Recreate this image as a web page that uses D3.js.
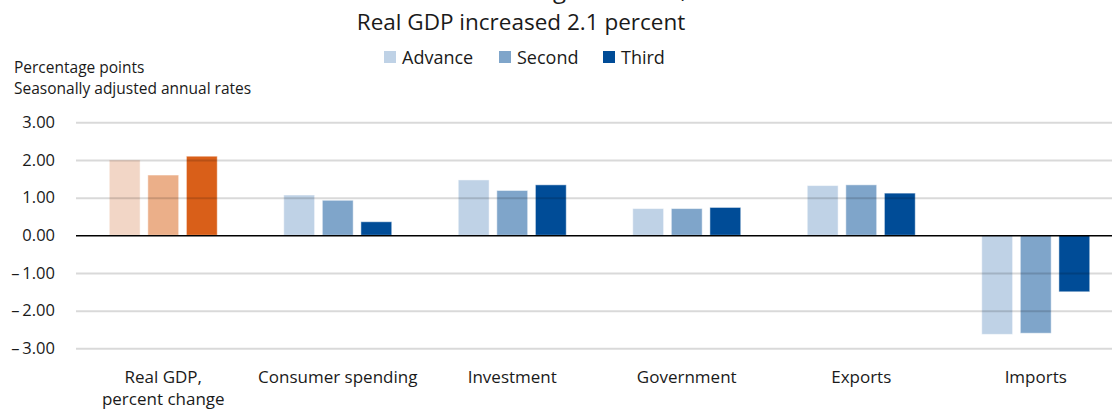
<!DOCTYPE html>
<html>
<head>
<meta charset="utf-8">
<script src="https://cdn.jsdelivr.net/npm/d3@7"></script>
<style>
body { margin: 0; background: #fff; }
text { font-family: "Open Sans", "Noto Sans", sans-serif; fill: #1a1a1a; }
</style>
</head>
<body>
<script>
// data
var categories = ["Real GDP,|percent change", "Consumer spending", "Investment", "Government", "Exports", "Imports"];
var series = ["Advance", "Second", "Third"];
var advance = [2.00, 1.07, 1.47, 0.71, 1.32, -2.63];
var second  = [1.60, 0.93, 1.19, 0.71, 1.34, -2.60];
var third   = [2.10, 0.36, 1.34, 0.74, 1.12, -1.50];
var yTicks = [3, 2, 1, 0, -1, -2, -3];

var blues = ["#bfd2e6", "#7fa5ca", "#004c97"];
var oranges = ["#f2d6c6", "#ebaf89", "#d95f19"];

var width = 1112, height = 411;
var svg = d3.select("body").append("svg")
  .attr("width", width)
  .attr("height", height);

// title sits mostly above the visible area, as in the reference
svg.append("text")
  .attr("x", 562).attr("y", -2)
  .attr("text-anchor", "middle")
  .attr("font-size", 24)
  .text("Revisions Among Estimates, 2019");

svg.append("text")
  .attr("x", 521).attr("y", 30)
  .attr("text-anchor", "middle")
  .attr("font-size", 22.5)
  .text("Real GDP increased 2.1 percent");

// legend
var legX = [384, 499, 603];
series.forEach(function(s, i) {
  svg.append("rect")
    .attr("x", legX[i]).attr("y", 51)
    .attr("width", 12).attr("height", 12)
    .attr("fill", blues[i]);
  svg.append("text")
    .attr("x", legX[i] + 18).attr("y", 63.5)
    .attr("font-size", 18)
    .text(s);
});

// axis title
svg.append("text").attr("x", 14).attr("y", 73).attr("font-size", 15.5).text("Percentage points");
svg.append("text").attr("x", 14).attr("y", 94).attr("font-size", 15.5).text("Seasonally adjusted annual rates");

var y = d3.scaleLinear().domain([-3, 3]).range([348.3, 122.3]);
var x0 = d3.scaleBand().domain(categories).range([76, 1123]);
var x1 = d3.scaleBand().domain(series).range([0, x0.bandwidth()])
  .paddingInner(0.2).paddingOuter(0.862);

var rows = categories.map(function(c, i) {
  return { cat: c, vals: [advance[i], second[i], third[i]] };
});

// bars
rows.forEach(function(r, ci) {
  var cols = ci === 0 ? oranges : blues;
  svg.selectAll(null)
    .data(r.vals).enter().append("rect")
    .attr("x", function(d, i) { return x0(r.cat) + x1(series[i]); })
    .attr("width", x1.bandwidth())
    .attr("y", function(d) { return y(Math.max(0, d)); })
    .attr("height", function(d) { return Math.abs(y(d) - y(0)); })
    .attr("fill", function(d, i) { return cols[i]; })
    .attr("stroke", "#fff")
    .attr("stroke-opacity", 0.5)
    .attr("stroke-width", 1);
});

// y axis with gridlines drawn over the bars
var fmt = d3.format(".2f");
var yAxis = svg.append("g")
  .attr("transform", "translate(76,0)")
  .call(d3.axisLeft(y).tickValues(yTicks)
    .tickFormat(function(d) { return d < 0 ? "\u2013\u2009" + fmt(-d) : fmt(d); })
    .tickSize(-(width - 76)).tickPadding(21));
yAxis.select(".domain").remove();
yAxis.selectAll(".tick line")
  .attr("stroke", "#000")
  .attr("stroke-opacity", function(d) { return d === 0 ? 1 : 0.15; })
  .attr("stroke-width", function(d) { return d === 0 ? 1.6 : 2; });
yAxis.selectAll(".tick text")
  .style("font-size", "16.5px")
  .style("fill", "#1a1a1a");

// category labels
rows.forEach(function(r) {
  var lines = r.cat.split("|");
  var t = svg.append("text")
    .attr("x", x0(r.cat) + x0.bandwidth() / 2)
    .attr("y", 383)
    .attr("text-anchor", "middle")
    .attr("font-size", 17);
  lines.forEach(function(l, i) {
    t.append("tspan")
      .attr("x", x0(r.cat) + x0.bandwidth() / 2)
      .attr("dy", i === 0 ? 0 : 22)
      .text(l);
  });
});
</script>
</body>
</html>
